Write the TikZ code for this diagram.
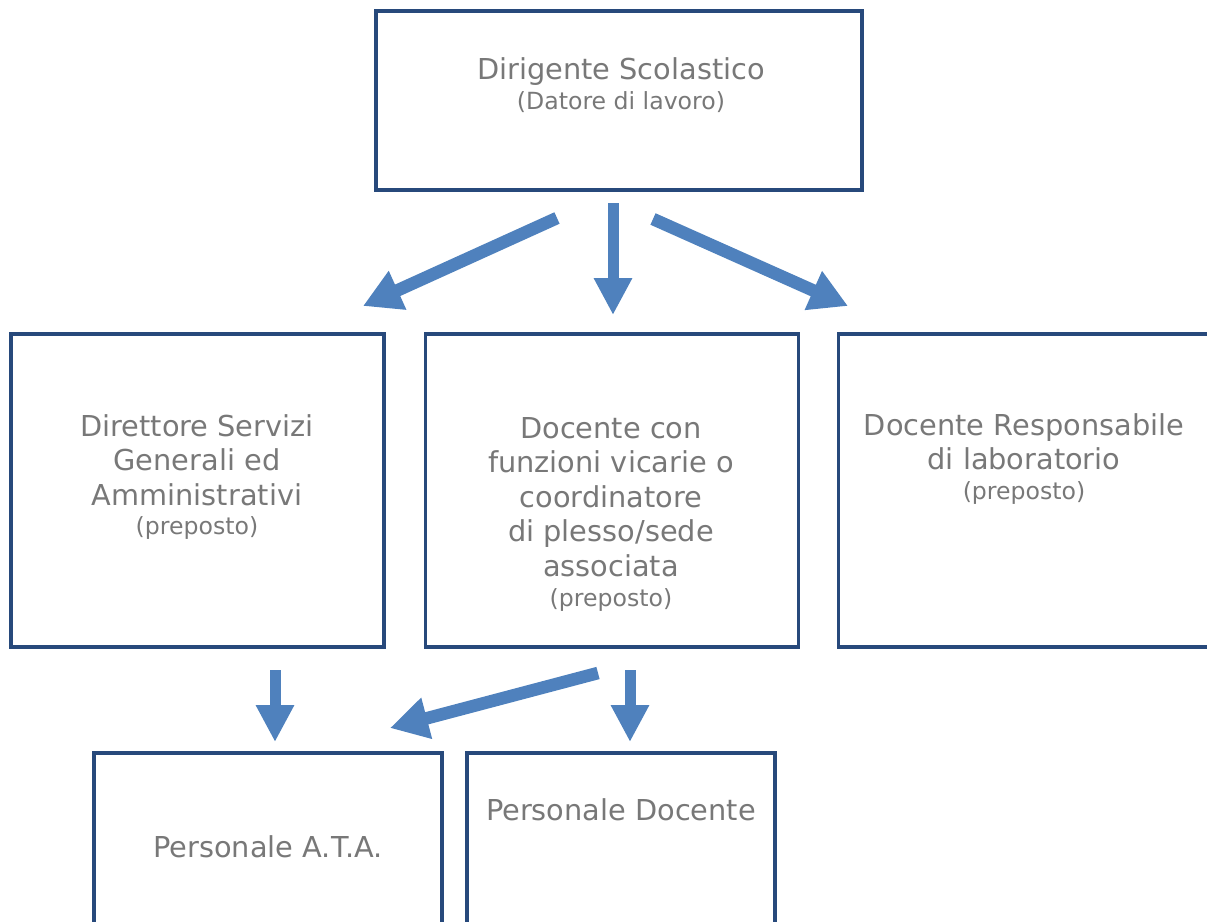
\documentclass[tikz,border=0pt]{standalone}
\usepackage{fontspec}
\setmainfont{DejaVu Sans}
\usepackage{xcolor}
\usetikzlibrary{arrows.meta,positioning}

\definecolor{boxblue}{HTML}{27497B}
\definecolor{arrowblue}{HTML}{4F81BD}
\definecolor{txtgray}{HTML}{787878}
\newcommand{\prep}[1]{{\fontsize{11.8}{14}\selectfont #1}}

\begin{document}
\begin{tikzpicture}[x=0.5pt, y=-0.5pt,
  box/.style={rectangle, draw=boxblue, line width=1.6pt, inner sep=0pt},
  lbl/.style={align=center, text=txtgray, font=\fontsize{14.4}{17.3}\selectfont},
  flow/.style={draw=arrowblue, line width=5.5pt, -{Triangle[length=18.5pt, width=18pt]}},
  slant/.style={flow, line width=6.3pt, -{Triangle[length=19pt, width=20pt]}}]
\useasboundingbox (0,0) rectangle (1207,922);
\clip (0,0) rectangle (1207,922);

% boxes
\node[box, minimum width=243pt, minimum height=89.5pt] (ds) at (619,100.5) {};
\node[box, minimum width=186.5pt, minimum height=156.5pt] (dsga) at (197.5,490.5) {};
\node[box, minimum width=186.5pt, minimum height=156.5pt, right=19pt of dsga] (vic) {};
\node[box, minimum width=186.5pt, minimum height=156.5pt, right=18.5pt of vic] (lab) {};
\node[box, minimum width=174pt, minimum height=94pt] (ata) at (268,847) {};
\node[box, minimum width=154pt, minimum height=94pt] (doc) at (621,847) {};

% labels
\node[lbl] (dstxt) at (621,85) {Dirigente Scolastico\\[-2.5pt]\prep{(Datore di lavoro)}};
\node[lbl] (dsgatxt) at (197,477) {Direttore Servizi\\Generali ed\\Amministrativi\\[-2.5pt]\prep{(preposto)}};
\node[lbl] (victxt) at (611,514) {Docente con\\funzioni vicarie o\\coordinatore\\di plesso/sede\\associata\\[-2.5pt]\prep{(preposto)}};
\node[lbl] (labtxt) at (1024,459) {Docente Responsabile\\di laboratorio\\[-2.5pt]\prep{(preposto)}};
\node[lbl] (atatxt) at (268,847) {Personale A.T.A.};
\node[lbl] (doctxt) at (621,810) {Personale Docente};

% arrows
\coordinate (dsl) at (557,218);
\coordinate (dsm) at (613,203);
\coordinate (dsr) at (653,219);
\coordinate (dsgain) at (363,306);
\coordinate (vicin) at (613,315);
\coordinate (labin) at (848,306);
\coordinate (dsgaout) at (275,670);
\coordinate (vicl) at (598,673);
\coordinate (vicr) at (630,670);
\coordinate (atain) at (275,742);
\coordinate (atain2) at (390,728);
\coordinate (docin) at (630,742);

\draw[slant] (dsl) -- (dsgain);
\draw[flow] (dsm) -- (vicin);
\draw[slant] (dsr) -- (labin);
\draw[flow] (dsgaout) -- (atain);
\draw[slant] (vicl) -- (atain2);
\draw[flow] (vicr) -- (docin);
\end{tikzpicture}
\end{document}
